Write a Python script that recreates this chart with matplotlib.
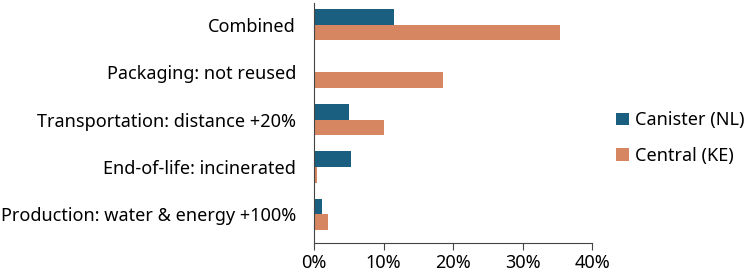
import numpy as np
import matplotlib.pyplot as plt

plt.rcParams['font.family'] = ['Noto Sans', 'DejaVu Sans']

categories = ["Combined", "Packaging: not reused", "Transportation: distance +20%",
              "End-of-life: incinerated", "Production: water & energy +100%"]
canister = [11.5, 0.0, 5.1, 5.3, 1.2]
central = [35.3, 18.6, 10.1, 0.4, 2.0]
series_names = ["Canister (NL)", "Central (KE)"]
xticks = [0, 10, 20, 30, 40]

fig = plt.figure(figsize=(7.44, 2.77), dpi=100)
ax = fig.add_axes([0.422, 0.123, 0.374, 0.866])

y = np.arange(len(categories))
h = 0.33
ax.barh(y - h / 2, canister, height=h, color="#1a5f80", label=series_names[0])
ax.barh(y + h / 2, central, height=h, color="#d68661", label=series_names[1])

ax.set_ylim(4.6, -0.46)
ax.set_xlim(0, 40)
ax.set_yticks(y)
ax.set_yticklabels(categories, fontsize=13)
ax.set_xticks(xticks)
ax.set_xticklabels([f"{t}%" for t in xticks], fontsize=13)
ax.tick_params(axis="y", length=0, pad=13)
ax.tick_params(axis="x", length=5, color="#444444", pad=3)

for s in ["top", "right"]:
    ax.spines[s].set_visible(False)
for s in ["left", "bottom"]:
    ax.spines[s].set_color("#444444")

fig.legend(loc="center left", bbox_to_anchor=(0.828, 0.502), frameon=False,
           fontsize=13, handlelength=0.7, handleheight=0.7, handletextpad=0.35,
           labelspacing=0.95, borderpad=0, borderaxespad=0)

plt.savefig("out.png", dpi=100)
